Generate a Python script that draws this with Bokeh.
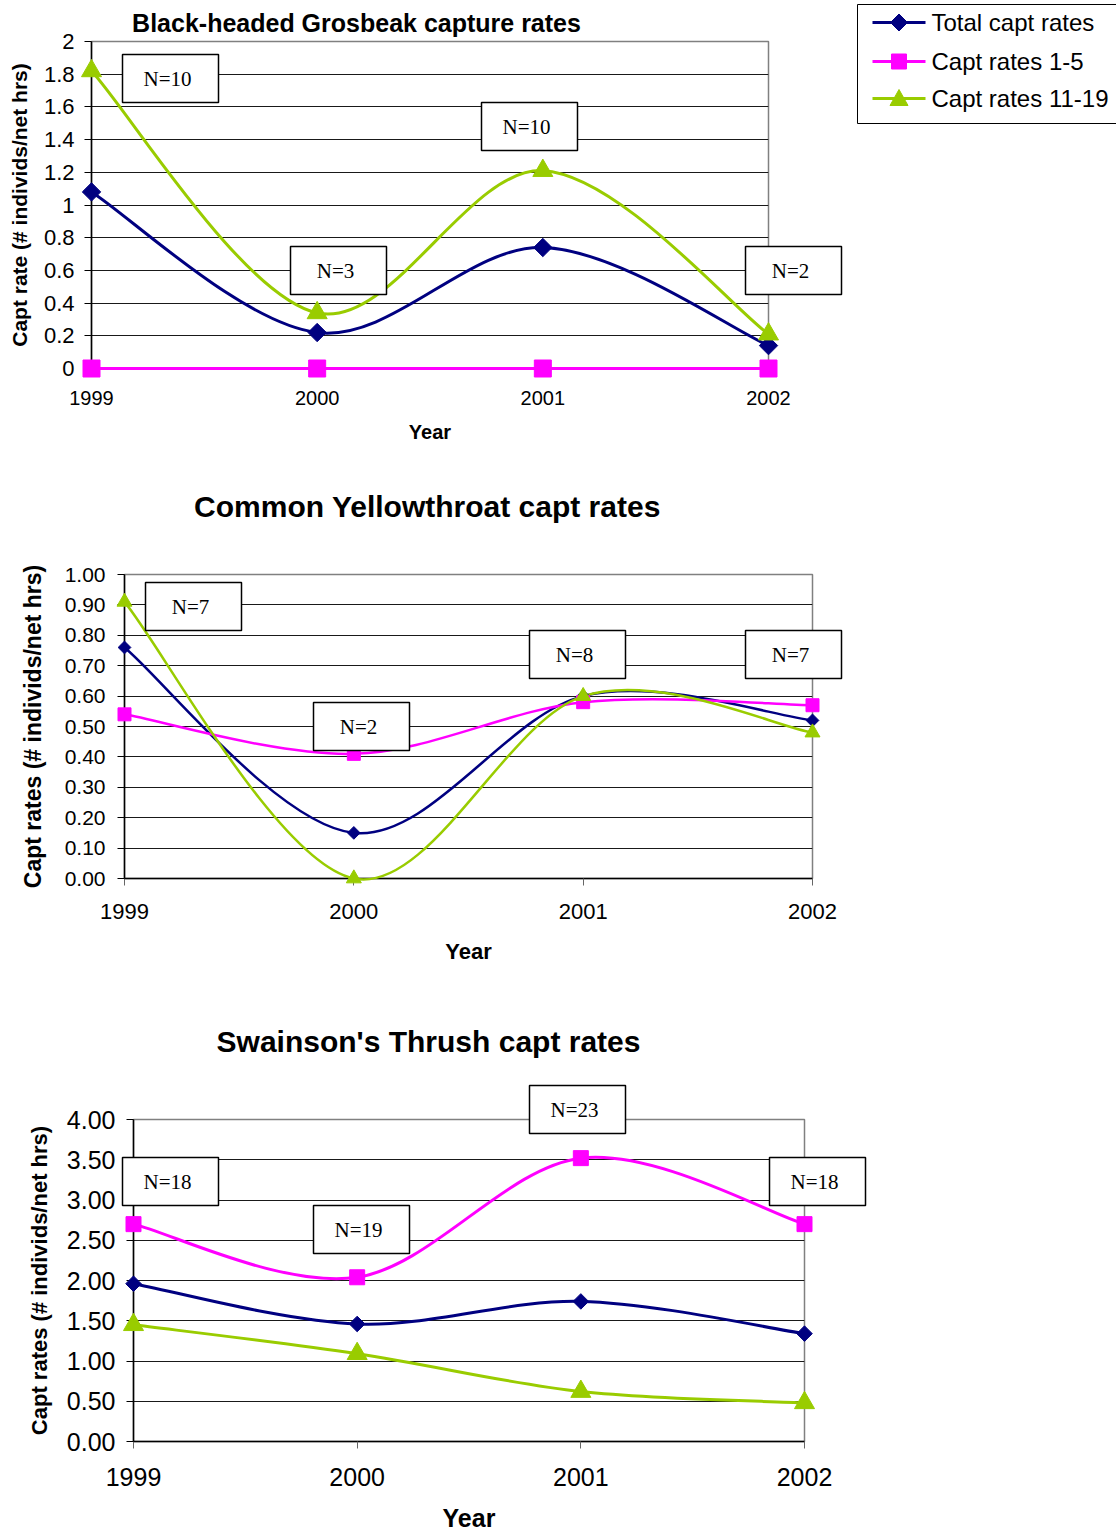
import math
from bokeh.plotting import figure
from bokeh.models import Range1d, FixedTicker, NumeralTickFormatter, ColumnDataSource
from bokeh.embed import file_html
from bokeh.resources import INLINE
from bokeh.core.properties import value

# ---------------- data ----------------
years = [1999, 2000, 2001, 2002]
series_names = ["Total capt rates", "Capt rates 1-5", "Capt rates 11-19"]

# Black-headed Grosbeak
bhg_total = [1.08, 0.22, 0.74, 0.14]
bhg_1_5 = [0.0, 0.0, 0.0, 0.0]
bhg_11_19 = [1.82, 0.34, 1.21, 0.21]
bhg_n_labels = ["N=10", "N=3", "N=10", "N=2"]

# Common Yellowthroat
coye_total = [0.76, 0.15, 0.60, 0.52]
coye_1_5 = [0.54, 0.41, 0.58, 0.57]
coye_11_19 = [0.91, 0.00, 0.60, 0.48]
coye_n_labels = ["N=7", "N=2", "N=8", "N=7"]

# Swainson's Thrush
swth_total = [1.96, 1.46, 1.74, 1.34]
swth_1_5 = [2.70, 2.04, 3.52, 2.70]
swth_11_19 = [1.45, 1.09, 0.62, 0.48]
swth_n_labels = ["N=18", "N=19", "N=23", "N=18"]

# ---------------- layout (page pixels) ----------------
COLORS = ["#000080", "#FF00FF", "#99CC00"]
FONT = "Liberation Sans"
SERIF = "Liberation Serif"
PAGE_W = 1116

# frame: left, top, width, height ; figure top / bottom on the page
bhg_frame = (91, 41, 677, 327)
coye_frame = (124, 574, 688, 304)
swth_frame = (133, 1119, 671, 322)
bhg_fig = (0, 470)
coye_fig = (470, 1000)
swth_fig = (1000, 1534)

# centres of the "N=" boxes and of the titles (page pixels)
bhg_box_px = [(170, 78), (338, 270), (529, 126), (793, 270)]
coye_box_px = [(193, 606), (361, 726), (577, 654), (793, 654)]
swth_box_px = [(170, 1181), (361, 1229), (577, 1109), (817, 1181)]
bhg_title_px = (356, 22)
coye_title_px = (427, 506)
swth_title_px = (428, 1041)

# legend box (page pixels): left, top, right, bottom ; row centres
legend_box_px = (857, 4, 1117, 123)
legend_rows_px = [22, 61, 98]
legend_glyph_px = (872, 925)
legend_text_x_px = 931


def to_data(frame, ymax, px, py):
    left, top, w, h = frame
    return (years[0] + (px - left) / w * (years[-1] - years[0]),
            ymax * (top + h - py) / h)


def bezier_source(xs, ys):
    """Smoothed (Catmull-Rom style) bezier segments through the data points."""
    n = len(xs)
    d = dict(x0=[], y0=[], x1=[], y1=[], cx0=[], cy0=[], cx1=[], cy1=[])
    for i in range(n - 1):
        pxm, pym = (xs[i - 1], ys[i - 1]) if i > 0 else (xs[i], ys[i])
        px2, py2 = (xs[i + 2], ys[i + 2]) if i + 2 < n else (xs[i + 1], ys[i + 1])
        d["x0"].append(xs[i]); d["y0"].append(ys[i])
        d["x1"].append(xs[i + 1]); d["y1"].append(ys[i + 1])
        d["cx0"].append(xs[i] + (xs[i + 1] - pxm) / 6.0)
        d["cy0"].append(ys[i] + (ys[i + 1] - pym) / 6.0)
        d["cx1"].append(xs[i + 1] - (px2 - xs[i]) / 6.0)
        d["cy1"].append(ys[i + 1] - (py2 - ys[i]) / 6.0)
    return ColumnDataSource(d)


MARKERS = [("square", math.pi / 4), ("square", 0.0), ("triangle", 0.0)]


def make_chart(title, series, ymax, ystep, yfmt, ylabel, box_px, box_labels, title_px,
               frame, fig, fonts, msizes, lw):
    left, top, fw, fh = frame
    ftop, fbot = fig
    p = figure(frame_width=fw, frame_height=fh, min_border_left=left,
               min_border_right=PAGE_W - left - fw,
               min_border_top=top - ftop, min_border_bottom=fbot - (top + fh),
               x_range=Range1d(years[0], years[-1]), y_range=Range1d(0, ymax),
               output_backend="svg", toolbar_location=None, background_fill_color="white",
               border_fill_color="white")
    p.outline_line_color = "#808080"
    p.outline_line_width = 1.5

    yt = [round(i * ystep, 4) for i in range(int(round(ymax / ystep)) + 1)]
    p.yaxis.ticker = FixedTicker(ticks=yt)
    p.yaxis.formatter = NumeralTickFormatter(format=yfmt)
    p.xaxis.ticker = FixedTicker(ticks=years)
    for ax in (p.xaxis[0], p.yaxis[0]):
        ax.axis_line_color = "black"
        ax.axis_line_width = 1.5
        ax.major_tick_line_color = "black"
        ax.major_tick_line_width = 1
        ax.major_tick_out = 7
        ax.major_tick_in = 0
        ax.minor_tick_line_color = None
        ax.major_label_text_font = FONT
        ax.major_label_text_color = "black"
        ax.axis_label_text_font = FONT
        ax.axis_label_text_font_style = "bold"
        ax.axis_label_text_color = "black"
    p.xaxis.major_tick_line_color = "#666666"
    p.yaxis.axis_label = ylabel
    p.xaxis.axis_label = "Year"
    p.yaxis.major_label_text_font_size = fonts["ytick"]
    p.xaxis.major_label_text_font_size = fonts["xtick"]
    p.yaxis.axis_label_text_font_size = fonts["ylabel"]
    p.xaxis.axis_label_text_font_size = fonts["xlabel"]
    p.yaxis.major_label_standoff = fonts["y_mls"]
    p.yaxis.axis_label_standoff = fonts["y_als"]
    p.xaxis.major_label_standoff = fonts["x_mls"]
    p.xaxis.axis_label_standoff = fonts["x_als"]

    p.xgrid.grid_line_color = None
    p.ygrid.grid_line_color = "black"
    p.ygrid.grid_line_alpha = 0.9
    p.ygrid.grid_line_width = 1

    # title
    tx, ty = to_data(frame, ymax, *title_px)
    p.text(x=[tx], y=[ty], text=[title], text_align="center", text_baseline="middle",
           text_font=value(FONT), text_font_style="bold", text_font_size=fonts["title"],
           text_color="black", level="overlay")

    for vals, color in zip(series, COLORS):
        p.bezier(x0="x0", y0="y0", x1="x1", y1="y1", cx0="cx0", cy0="cy0", cx1="cx1", cy1="cy1",
                 source=bezier_source(years, vals), line_color=color, line_width=lw,
                 level="overlay")
    for vals, color, (mk, ang), ms in zip(series, COLORS, MARKERS, msizes):
        p.scatter(years, vals, marker=mk, angle=ang, size=ms, fill_color=color,
                  line_color=color, level="overlay")

    bx = [to_data(frame, ymax, *c)[0] for c in box_px]
    by = [to_data(frame, ymax, *c)[1] for c in box_px]
    p.rect(x=bx, y=by, width=96, height=48, width_units="screen", height_units="screen",
           fill_color="white", line_color="black", line_width=1.5, level="overlay")
    p.text(x=bx, y=by, text=box_labels, text_align="center", text_baseline="middle",
           text_font=value(SERIF), text_font_size="21px", text_color="black", x_offset=-3,
           level="overlay")
    return p


p1 = make_chart("Black-headed Grosbeak capture rates", [bhg_total, bhg_1_5, bhg_11_19],
                2.0, 0.2, "0.[0]", "Capt rate (# individs/net hrs)",
                bhg_box_px, bhg_n_labels, bhg_title_px, bhg_frame, bhg_fig,
                dict(title="25px", ytick="22px", xtick="20px",
                     ylabel="21px", xlabel="20px", y_mls=10, y_als=10, x_mls=15, x_als=13),
                (13, 17, 20), 3)
p2 = make_chart("Common Yellowthroat capt rates", [coye_total, coye_1_5, coye_11_19],
                1.0, 0.1, "0.00", "Capt rates (# individs/net hrs)",
                coye_box_px, coye_n_labels, coye_title_px, coye_frame, coye_fig,
                dict(title="30px", ytick="21px", xtick="22px",
                     ylabel="23px", xlabel="22px", y_mls=12, y_als=16, x_mls=18, x_als=17),
                (9, 13, 15), 2.5)
p3 = make_chart("Swainson's Thrush capt rates", [swth_total, swth_1_5, swth_11_19],
                4.0, 0.5, "0.00", "Capt rates (# individs/net hrs)",
                swth_box_px, swth_n_labels, swth_title_px, swth_frame, swth_fig,
                dict(title="30px", ytick="25px", xtick="25px",
                     ylabel="22px", xlabel="25px", y_mls=11, y_als=12, x_mls=19, x_als=15),
                (11, 15, 20), 3)

# ---------------- legend (drawn on the first chart, right of its frame) ----------------
def d1(px, py):
    return to_data(bhg_frame, 2.0, px, py)


lx0, lt, lx1, lb = legend_box_px
cx, cy = d1((lx0 + lx1) / 2, (lt + lb) / 2)
p1.rect(x=[cx], y=[cy], width=lx1 - lx0, height=lb - lt, width_units="screen",
        height_units="screen", fill_color="white", line_color="black", line_width=1,
        level="overlay")
gx0 = d1(legend_glyph_px[0], 0)[0]
gx1 = d1(legend_glyph_px[1], 0)[0]
gmid_px = (legend_glyph_px[0] + legend_glyph_px[1]) / 2
gxm = d1(gmid_px, 0)[0]
tx = d1(legend_text_x_px, 0)[0]
for i, (name, color, ry) in enumerate(zip(series_names, COLORS, legend_rows_px)):
    yy = d1(0, ry)[1]
    p1.line(x=[gx0, gx1], y=[yy, yy], line_color=color, line_width=3, level="overlay")
    if i == 0:      # diamond
        p1.rect(x=[gxm], y=[yy], width=12, height=12, width_units="screen",
                height_units="screen", angle=math.pi / 4, fill_color=color, line_color=color,
                level="overlay")
    elif i == 1:    # square
        p1.rect(x=[gxm], y=[yy], width=15, height=15, width_units="screen",
                height_units="screen", fill_color=color, line_color=color, level="overlay")
    else:           # triangle
        tri = [d1(gmid_px - 9, ry + 7), d1(gmid_px + 9, ry + 7), d1(gmid_px, ry - 9)]
        p1.patch(x=[t[0] for t in tri], y=[t[1] for t in tri], fill_color=color,
                 line_color=color, level="overlay")
    p1.text(x=[tx], y=[yy], text=[name], text_align="left", text_baseline="middle",
            text_font=value(FONT), text_font_size="24px", text_color="black", level="overlay")

open("out.html", "w").write(file_html([p1, p2, p3], INLINE))
